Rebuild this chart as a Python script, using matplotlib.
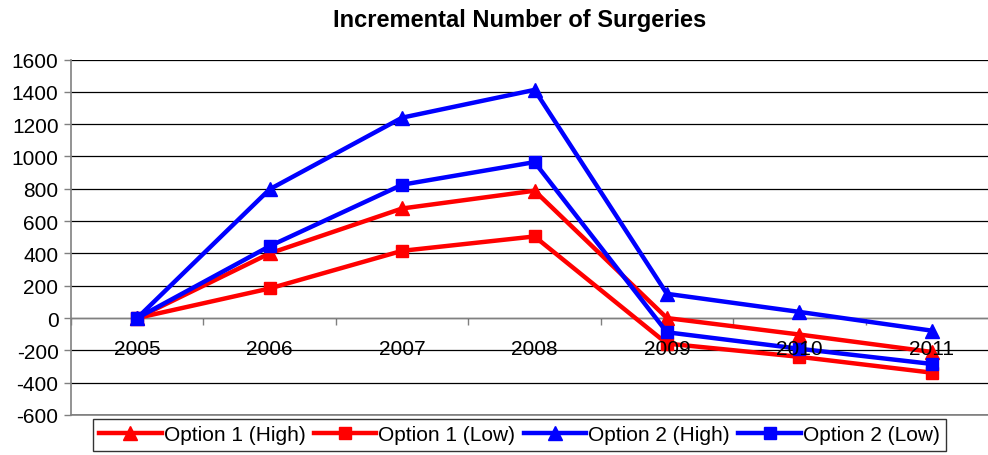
import matplotlib
matplotlib.use("Agg")
import matplotlib.pyplot as plt
from matplotlib.ticker import FixedLocator, MultipleLocator
import matplotlib.transforms as mtransforms

years = ["2005", "2006", "2007", "2008", "2009", "2010", "2011"]
opt1_high = [0, 400, 678, 788, 0, -102, -210]
opt1_low = [0, 183, 416, 505, -158, -240, -338]
opt2_high = [0, 797, 1240, 1412, 150, 38, -78]
opt2_low = [0, 445, 825, 965, -88, -190, -284]

series_names = ["Option 1 (High)", "Option 1 (Low)", "Option 2 (High)", "Option 2 (Low)"]

plt.rcParams['font.family'] = ['Liberation Sans', 'DejaVu Sans']
plt.rcParams['axes.unicode_minus'] = False

fig = plt.figure(figsize=(9.88, 4.56), dpi=100)
W, H = 988, 456
left, right, top, bottom = 71, 998, 60.5, 416
ax = fig.add_axes([left / W, 1 - bottom / H, (right - left) / W, (bottom - top) / H])

x = list(range(len(years)))
ax.plot(x, opt1_high, color='#ff0000', lw=3.2, marker='^', ms=10, mec='#ff0000', label=series_names[0], zorder=3)
ax.plot(x, opt1_low, color='#ff0000', lw=3.2, marker='s', ms=9, mec='#ff0000', label=series_names[1], zorder=3)
ax.plot(x, opt2_high, color='#0000ff', lw=3.2, marker='^', ms=10, mec='#0000ff', label=series_names[2], zorder=3)
ax.plot(x, opt2_low, color='#0000ff', lw=3.2, marker='s', ms=9, mec='#0000ff', label=series_names[3], zorder=3)

ax.set_xlim(-0.5, len(years) - 0.5)
ax.set_ylim(-600, 1600)
ax.yaxis.set_major_locator(MultipleLocator(200))
ax.grid(axis='y', color='#000000', lw=0.9)
ax.set_axisbelow('line')

for s in ['top', 'right']:
    ax.spines[s].set_visible(False)
ax.spines['left'].set_color('#808080')
ax.spines['left'].set_linewidth(1.2)
ax.spines['bottom'].set_position(('data', 0))
ax.spines['bottom'].set_color('#808080')
ax.spines['bottom'].set_linewidth(1.0)

ax.xaxis.set_major_locator(FixedLocator([i + 0.5 for i in range(-1, len(years))]))
ax.set_xticklabels([])
ax.tick_params(axis='x', direction='out', length=5, color='#808080', width=1)
ax.tick_params(axis='y', direction='out', length=5, color='#808080', width=1, labelsize=15, pad=4)

trans = mtransforms.blended_transform_factory(ax.transData, ax.transData)
for i, yr in enumerate(years):
    ax.text(i, -190, yr, ha='center', va='center', fontsize=15, color='black',
            zorder=10, transform=trans)

# bottom line at -600
ax.axhline(-600, color='#808080', lw=1.2, clip_on=False, zorder=1)

fig.text(520 / W, 1 - 20 / H, "Incremental Number of Surgeries", ha='center', va='center',
         fontsize=17, fontweight='bold')

leg = fig.legend(loc='center', bbox_to_anchor=(519.5 / W, 1 - 436 / H), ncol=4,
                 fontsize=15, frameon=True, fancybox=False, edgecolor='black',
                 handlelength=3.0, handletextpad=0.1, columnspacing=0.4,
                 borderpad=0.3, borderaxespad=0)
leg.get_frame().set_linewidth(1.0)

fig.savefig("out.png", dpi=100)
